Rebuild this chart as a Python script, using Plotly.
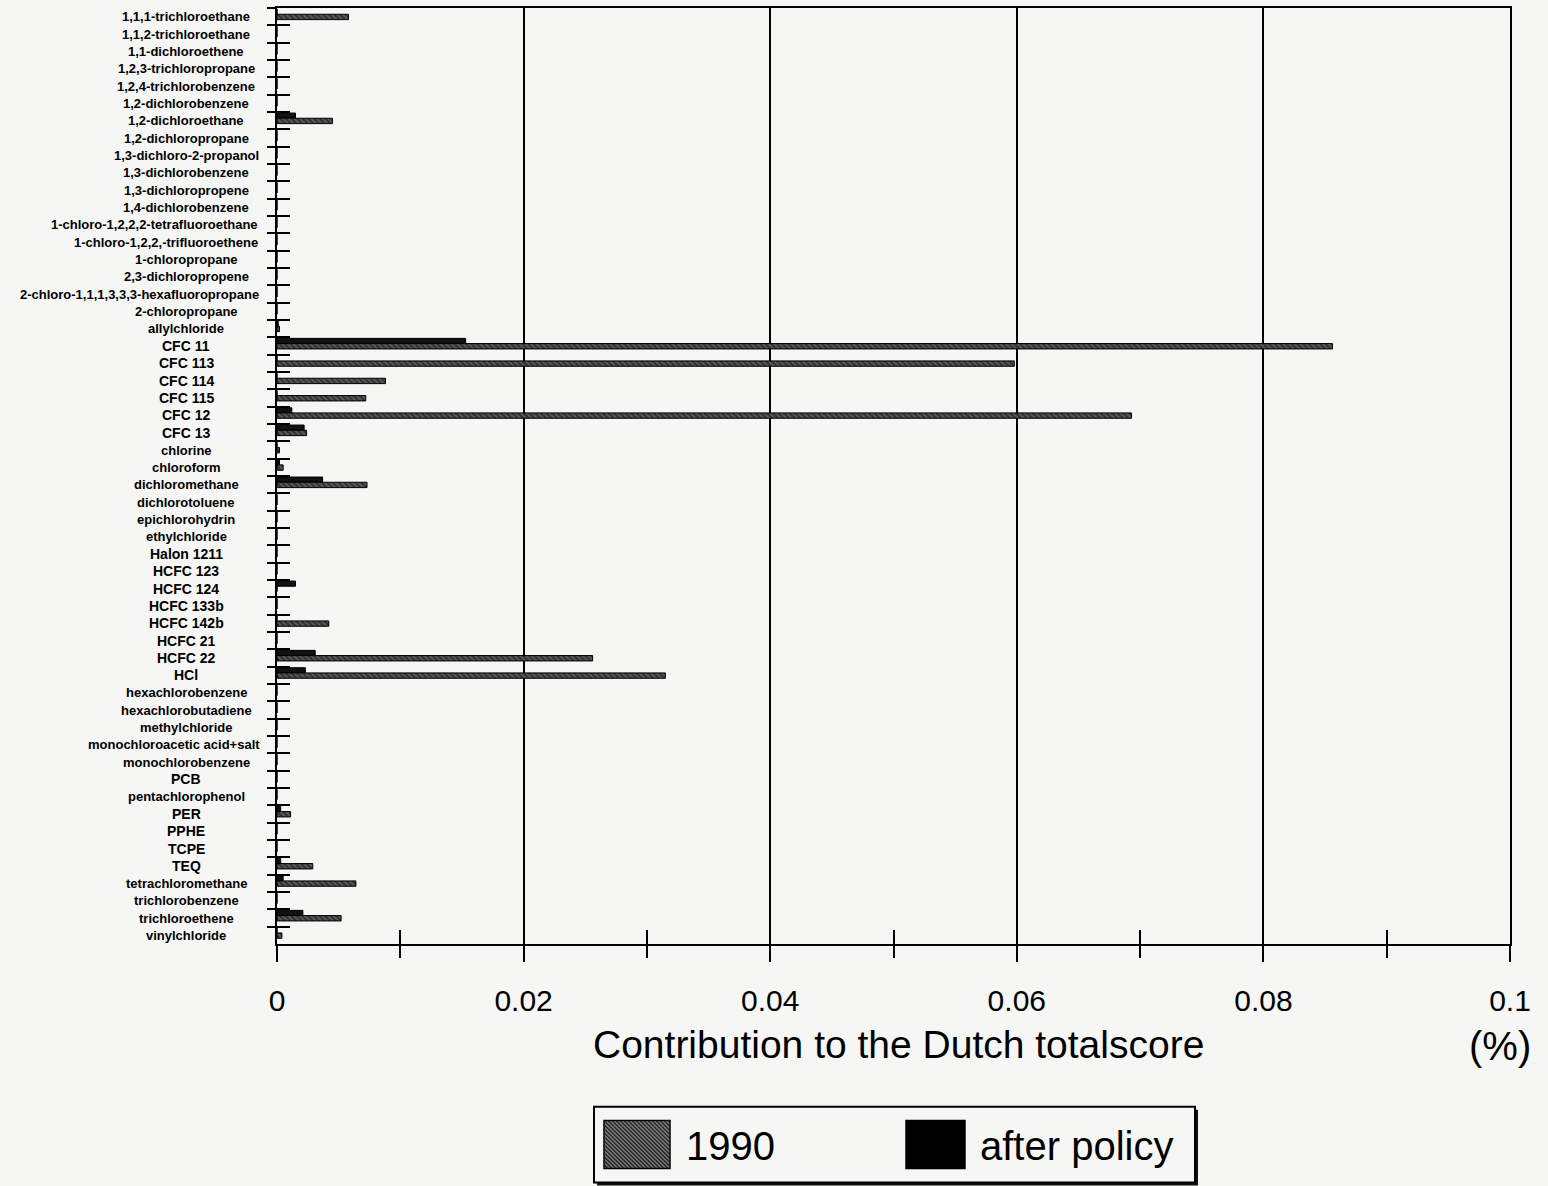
import plotly.graph_objects as go

# Chlorinated substances and their contribution to the Dutch total score (%)
substances = [
    "1,1,1-trichloroethane", "1,1,2-trichloroethane", "1,1-dichloroethene",
    "1,2,3-trichloropropane", "1,2,4-trichlorobenzene", "1,2-dichlorobenzene",
    "1,2-dichloroethane", "1,2-dichloropropane", "1,3-dichloro-2-propanol",
    "1,3-dichlorobenzene", "1,3-dichloropropene", "1,4-dichlorobenzene",
    "1-chloro-1,2,2,2-tetrafluoroethane", "1-chloro-1,2,2,-trifluoroethene",
    "1-chloropropane", "2,3-dichloropropene",
    "2-chloro-1,1,1,3,3,3-hexafluoropropane", "2-chloropropane", "allylchloride",
    "CFC 11", "CFC 113", "CFC 114", "CFC 115", "CFC 12", "CFC 13", "chlorine",
    "chloroform", "dichloromethane", "dichlorotoluene", "epichlorohydrin",
    "ethylchloride", "Halon 1211", "HCFC 123", "HCFC 124", "HCFC 133b",
    "HCFC 142b", "HCFC 21", "HCFC 22", "HCl", "hexachlorobenzene",
    "hexachlorobutadiene", "methylchloride", "monochloroacetic acid+salt",
    "monochlorobenzene", "PCB", "pentachlorophenol", "PER", "PPHE", "TCPE",
    "TEQ", "tetrachloromethane", "trichlorobenzene", "trichloroethene",
    "vinylchloride",
]

score_1990 = [
    0.0058, 0, 0, 0, 0, 0, 0.0045, 0, 0, 0, 0, 0, 0, 0, 0, 0, 0, 0, 0.0002,
    0.0856, 0.0598, 0.0088, 0.0072, 0.0693, 0.0024, 0.0002, 0.0005, 0.0073,
    0, 0, 0, 0, 0, 0, 0, 0.0042, 0, 0.0256, 0.0315, 0, 0, 0, 0, 0, 0, 0,
    0.0011, 0, 0, 0.0029, 0.0064, 0, 0.0052, 0.0004,
]

score_after = [
    0, 0, 0, 0, 0, 0, 0.0015, 0, 0, 0, 0, 0, 0, 0, 0, 0, 0, 0, 0.0001,
    0.0153, 0, 0, 0, 0.0012, 0.0022, 0, 0.0002, 0.0037,
    0, 0, 0, 0, 0, 0.0015, 0, 0, 0, 0.0031, 0.0023, 0, 0, 0, 0, 0, 0, 0,
    0.0003, 0, 0, 0.0003, 0.0005, 0, 0.0021, 0,
]

x_tickvals = [0, 0.02, 0.04, 0.06, 0.08, 0.1]
x_ticktext = ["0", "0.02", "0.04", "0.06", "0.08", "0.1"]
series_names = ["1990", "after policy"]
axis_title = "Contribution to the Dutch totalscore"
unit_label = "(%)"

FONT = "Liberation Sans, Arial, Helvetica, sans-serif"
BG = "#f6f6f5"
W, H = 1548, 1186
L, R, T, B = 277, 1510, 6, 944  # plot-area box in pixels


def px(x):
    return (x - L) / (R - L)


def py(y):
    return (B - y) / (B - T)


HATCH = dict(shape="\\", fgcolor="#000000", bgcolor="#5c5c5c", size=4, solidity=0.5)

fig = go.Figure()

fig.add_trace(go.Bar(
    y=substances, x=score_after, orientation="h", name=series_names[1],
    marker=dict(color="#111111", line=dict(color="#000000", width=1)),
    offset=-0.44, width=0.30, showlegend=False,
))
fig.add_trace(go.Bar(
    y=substances, x=score_1990, orientation="h", name=series_names[0],
    marker=dict(color="#5c5c5c", pattern=HATCH, line=dict(color="#000000", width=1)),
    offset=-0.14, width=0.31, showlegend=False,
))
# carrier trace for the overlaid tick axes
fig.add_trace(go.Scatter(
    x=score_1990, y=substances, xaxis="x2", yaxis="y2", mode="markers",
    marker=dict(opacity=0), hoverinfo="skip", showlegend=False,
))

n = len(substances)

fig.update_layout(
    width=W, height=H,
    margin=dict(l=L, r=W - R, t=T, b=H - B, pad=0),
    paper_bgcolor=BG, plot_bgcolor=BG,
    barmode="overlay",
    font=dict(family=FONT, color="#000000"),
    xaxis=dict(
        range=[0, 0.1], tickvals=x_tickvals, ticktext=x_ticktext,
        ticks="outside", ticklen=16, tickwidth=1.5, tickcolor="#000000",
        showgrid=True, gridcolor="#000000", gridwidth=1.5,
        showline=True, linecolor="#000000", linewidth=2, mirror=True,
        zeroline=False, tickfont=dict(size=30, family=FONT),
        ticklabelstandoff=13,
        minor=dict(tick0=0, dtick=0.01, ticks="outside", ticklen=12,
                   tickwidth=1.5, tickcolor="#000000", showgrid=False),
    ),
    yaxis=dict(
        type="category", categoryorder="array", categoryarray=substances,
        range=[n - 0.5, -0.5], ticks="inside", ticklen=13, tickwidth=1.5,
        tickcolor="#000000", tickson="boundaries", showticklabels=False,
        showgrid=False, showline=True, linecolor="#000000", linewidth=2,
        mirror=True, zeroline=False,
    ),
    xaxis2=dict(
        overlaying="x", matches="x", side="bottom", tick0=0, dtick=0.01,
        ticks="inside", ticklen=14, tickwidth=1.5, tickcolor="#000000",
        showticklabels=False, showgrid=False, showline=False, zeroline=False,
    ),
    yaxis2=dict(
        overlaying="y", matches="y", side="left", type="category",
        categoryorder="array", categoryarray=substances,
        ticks="outside", ticklen=9, tickwidth=1.5, tickcolor="#000000",
        tickson="boundaries", showticklabels=False, showgrid=False,
        showline=False, zeroline=False,
    ),
)


# category labels: bold, centred in the label column, kept clear of the axis
def text_width(s, size):
    w = 0.0
    for ch in s:
        if ch in ",.ilj ":
            w += 0.278
        elif ch in "-tf":
            w += 0.333
        elif ch == "r":
            w += 0.389
        elif ch.isupper():
            w += 0.72
        else:
            w += 0.57
    return w * size


annotations = []
for name in substances:
    size = 14 if name[0].isupper() else 13
    w = text_width(name, size)
    cx = min(186, 257 - w / 2)
    annotations.append(dict(
        x=0, xref="paper", xshift=cx - L, y=name, yref="y",
        text=f"<b>{name}</b>", showarrow=False, xanchor="center",
        yanchor="middle", font=dict(size=size, family=FONT, color="#000000"),
    ))

annotations.append(dict(
    x=px(898), y=py(1045), xref="paper", yref="paper", text=axis_title,
    showarrow=False, xanchor="center", yanchor="middle",
    font=dict(size=39, family=FONT, color="#000000"),
))
annotations.append(dict(
    x=px(1500), y=py(1046), xref="paper", yref="paper", text=unit_label,
    showarrow=False, xanchor="center", yanchor="middle",
    font=dict(size=40, family=FONT, color="#000000"),
))

# legend box
annotations.append(dict(
    x=px(684), y=py(1146), xref="paper", yref="paper", text=series_names[0],
    showarrow=False, xanchor="left", yanchor="middle",
    font=dict(size=40, family=FONT, color="#000000"),
))
annotations.append(dict(
    x=px(978), y=py(1146), xref="paper", yref="paper", text=series_names[1],
    showarrow=False, xanchor="left", yanchor="middle",
    font=dict(size=40, family=FONT, color="#000000"),
))

shapes = []
shapes.append(dict(type="rect", xref="paper", yref="paper",
                   x0=px(597), x1=px(1198), y0=py(1110), y1=py(1186),
                   line=dict(width=0), fillcolor="#111111"))
shapes.append(dict(type="rect", xref="paper", yref="paper",
                   x0=px(594), x1=px(1195), y0=py(1107), y1=py(1183),
                   line=dict(color="#000000", width=2), fillcolor=BG))

# hatched swatch
sx0, sx1, sy0, sy1 = 604, 670, 1121, 1169
shapes.append(dict(type="rect", xref="paper", yref="paper",
                   x0=px(sx0), x1=px(sx1), y0=py(sy0), y1=py(sy1),
                   line=dict(color="#000000", width=1.5), fillcolor="#7a7a7a"))
segs = []
c = sx0 - sy1
while c <= sx1 - sy0:
    xa = max(sx0, c + sy0)
    xb = min(sx1, c + sy1)
    if xb > xa:
        segs.append(f"M{px(xa):.5f},{py(xa - c):.5f}L{px(xb):.5f},{py(xb - c):.5f}")
    c += 4
shapes.append(dict(type="path", xref="paper", yref="paper", path="".join(segs),
                   line=dict(color="#1a1a1a", width=1.2)))
# solid swatch
shapes.append(dict(type="rect", xref="paper", yref="paper",
                   x0=px(906), x1=px(965), y0=py(1121), y1=py(1169),
                   line=dict(color="#000000", width=1.5), fillcolor="#000000"))

fig.update_layout(annotations=annotations, shapes=shapes)

fig.write_html("out.html")
